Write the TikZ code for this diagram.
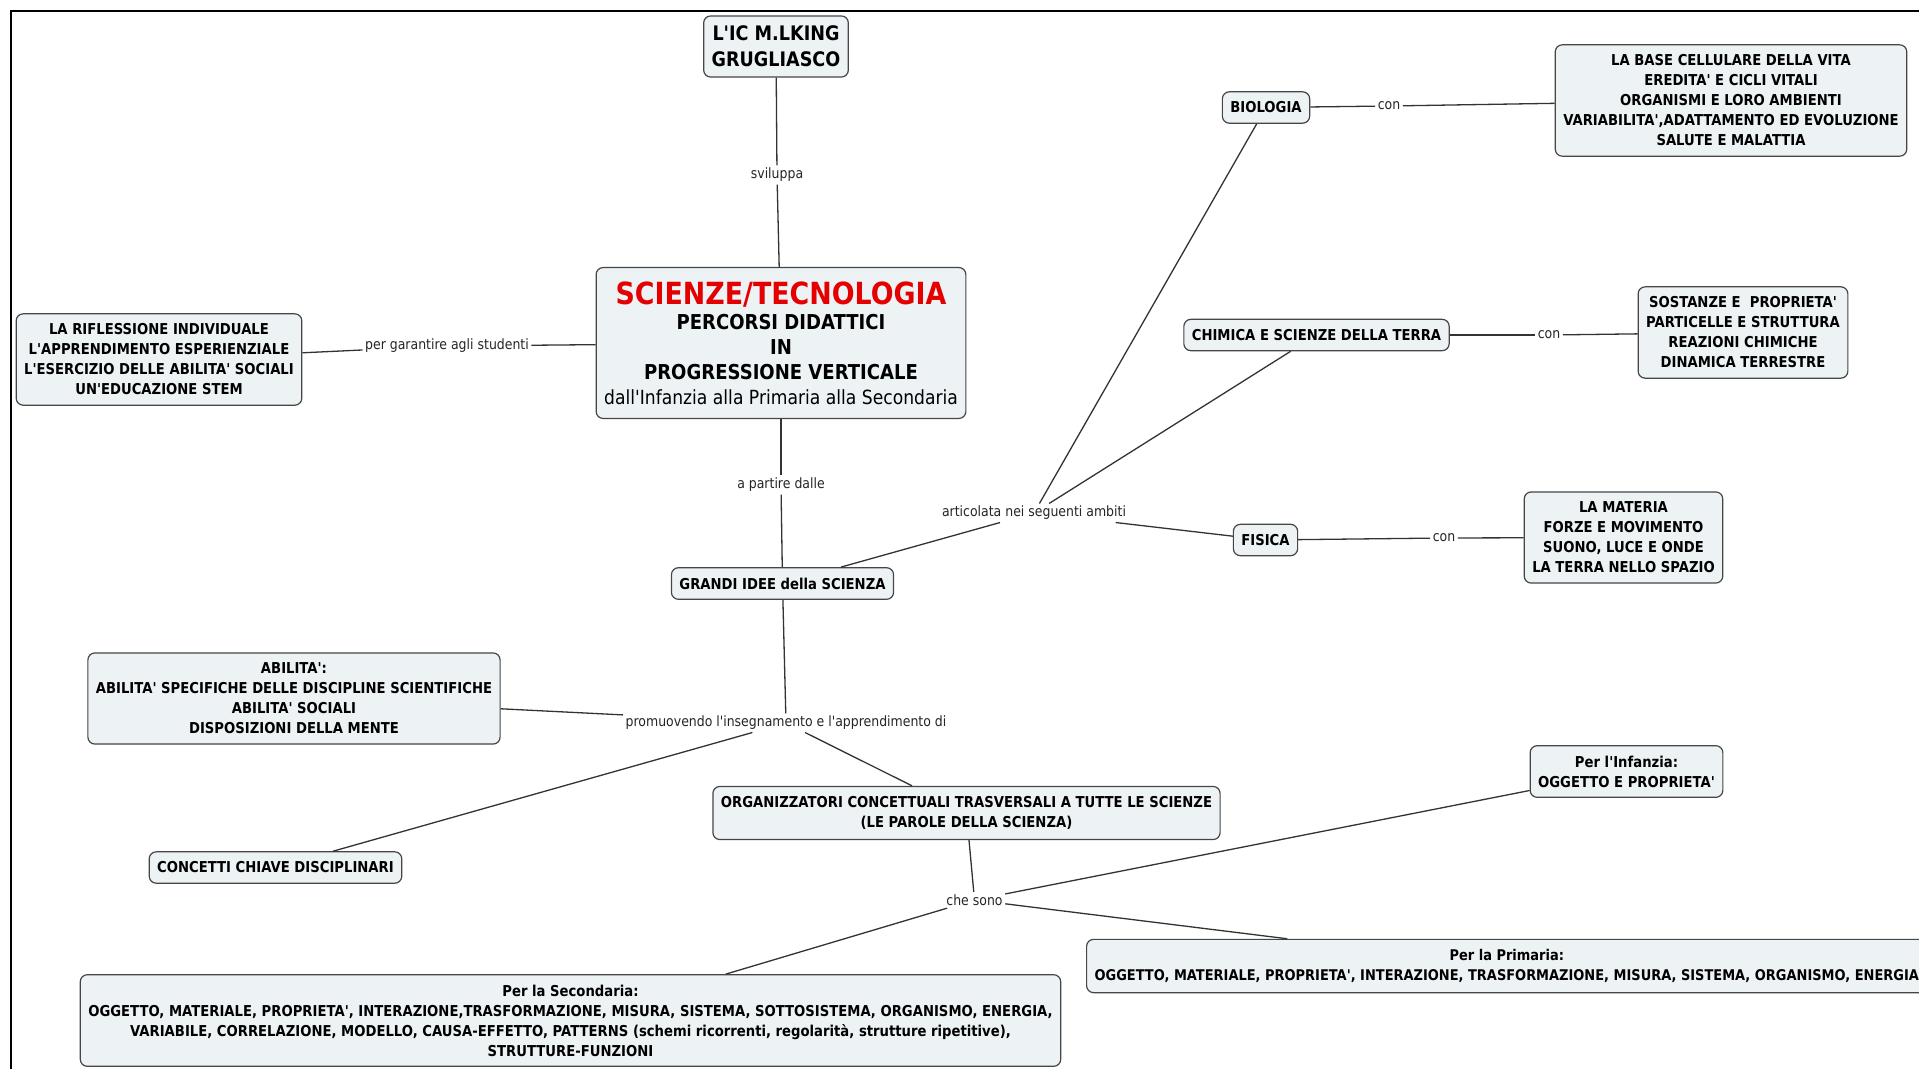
\documentclass[tikz,border=0pt]{standalone}
\usepackage{fontspec}
\usepackage{xcolor}
\usepackage{tikz}
\usetikzlibrary{positioning}

\newfontfamily\mapfont{DejaVu Sans}[FakeStretch=0.88]
\definecolor{conceptfill}{RGB}{237,243,245}
\definecolor{conceptline}{RGB}{70,70,70}
\definecolor{titlered}{RGB}{228,0,0}

\begin{document}
\begin{tikzpicture}[x=1pt, y=-1pt, line width=1.3pt, color=black!80,
	concept/.style={rectangle, rounded corners=7pt, draw=conceptline, fill=conceptfill, line width=1.2pt,
		align=center, text=black, font=\mapfont\bfseries\fontsize{15}{20}\selectfont, inner xsep=8pt, inner ysep=10pt},
	linkword/.style={font=\mapfont\fontsize{14.2}{16}\selectfont, text=black!85, inner sep=2pt},
]
\useasboundingbox (0,0) rectangle (1919,1068);
\fill [white] (0,0) rectangle (1919,1068);
\draw [black, line width=2.5pt] (11,11) rectangle (1960,1100);
%
\node [concept, font=\mapfont\bfseries\fontsize{20}{26}\selectfont] at (776,46.5) (lic) {L'IC M.LKING\\GRUGLIASCO};
\node [concept, inner ysep=14pt, font=\mapfont\bfseries\fontsize{20.5}{25}\selectfont] at (781,343) (main)
	{{\fontsize{30.5}{30.5}\selectfont\color{titlered}SCIENZE/TECNOLOGIA}\\PERCORSI DIDATTICI\\IN\\PROGRESSIONE VERTICALE\\{\mdseries\fontsize{19.5}{25}\selectfont dall'Infanzia alla Primaria alla Secondaria}};
\node [concept] at (159,359.5) (riflessione) {LA RIFLESSIONE INDIVIDUALE\\L'APPRENDIMENTO ESPERIENZIALE\\L'ESERCIZIO DELLE ABILITA' SOCIALI\\UN'EDUCAZIONE STEM};
\node [concept] at (1266,107.5) (biologia) {BIOLOGIA};
\node [concept] at (1731,100.5) (basecell) {LA BASE CELLULARE DELLA VITA\\EREDITA' E CICLI VITALI\\ORGANISMI E LORO AMBIENTI\\VARIABILITA',ADATTAMENTO ED EVOLUZIONE\\SALUTE E MALATTIA};
\node [concept] at (1316.5,335) (chimica) {CHIMICA E SCIENZE DELLA TERRA};
\node [concept] at (1743,332.5) (sostanze) {SOSTANZE E \ PROPRIETA'\\PARTICELLE E STRUTTURA\\REAZIONI CHIMICHE\\DINAMICA TERRESTRE};
\node [concept] at (1265.5,540) (fisica) {FISICA};
\node [concept] at (1623.5,537.5) (materia) {LA MATERIA\\FORZE E MOVIMENTO\\SUONO, LUCE E ONDE\\LA TERRA NELLO SPAZIO};
\node [concept] at (782.5,583.5) (grandi) {GRANDI IDEE della SCIENZA};
\node [concept] at (294,698.5) (abilita) {ABILITA':\\ABILITA' SPECIFICHE DELLE DISCIPLINE SCIENTIFICHE\\ABILITA' SOCIALI\\DISPOSIZIONI DELLA MENTE};
\node [concept] at (275.5,867.5) (concetti) {CONCETTI CHIAVE DISCIPLINARI};
\node [concept] at (966.5,813) (organizz) {ORGANIZZATORI CONCETTUALI TRASVERSALI A TUTTE LE SCIENZE\\(LE PAROLE DELLA SCIENZA)};
\node [concept] at (1626.5,771.5) (infanzia) {Per l'Infanzia:\\OGGETTO E PROPRIETA'};
\node [concept, anchor=west, font=\mapfont\bfseries\fontsize{14.75}{20}\selectfont] at (1086,966) (primaria) {Per la Primaria:\\OGGETTO, MATERIALE, PROPRIETA', INTERAZIONE, TRASFORMAZIONE, MISURA, SISTEMA, ORGANISMO, ENERGIA};
\node [concept] at (570.5,1020.5) (secondaria) {Per la Secondaria:\\OGGETTO, MATERIALE, PROPRIETA', INTERAZIONE,TRASFORMAZIONE, MISURA, SISTEMA, SOTTOSISTEMA, ORGANISMO, ENERGIA,\\VARIABILE, CORRELAZIONE, MODELLO, CAUSA-EFFETTO, PATTERNS (schemi ricorrenti, regolarità, strutture ripetitive),\\STRUTTURE-FUNZIONI};
%
\node [linkword] at (777,175) (sviluppa) {sviluppa};
\node [linkword] at (447,346) (garantire) {per garantire agli studenti};
\node [linkword] at (781,485) (partire) {a partire dalle};
\node [linkword] at (1034,513) (articolata) {articolata nei seguenti ambiti};
\node [linkword] at (1389,106) (conbio) {con};
\node [linkword] at (1549,335) (conchim) {con};
\node [linkword] at (1444,538) (confis) {con};
\node [linkword] at (786,723) (promuovendo) {promuovendo l'insegnamento e l'apprendimento di};
\node [linkword] at (974.5,900) (chesono) {che sono};
%
\draw (lic) -- (sviluppa);
\draw (sviluppa) -- (main);
\draw (main) -- (garantire);
\draw (garantire) -- (riflessione);
\draw (main) -- (partire);
\draw (partire) -- (grandi);
\draw (grandi) -- (articolata);
\draw (articolata) -- (biologia);
\draw (articolata) -- (chimica);
\draw (articolata) -- (fisica);
\draw (biologia) -- (conbio);
\draw (conbio) -- (basecell);
\draw (chimica) -- (conchim);
\draw (conchim) -- (sostanze);
\draw (fisica) -- (confis);
\draw (confis) -- (materia);
\draw (grandi) -- (promuovendo);
\draw (promuovendo) -- (abilita);
\draw (promuovendo) -- (concetti);
\draw (promuovendo) -- (organizz);
\draw (organizz) -- (chesono);
\draw (chesono) -- (infanzia);
\draw (chesono) -- (primaria);
\draw (chesono) -- (secondaria);
\end{tikzpicture}
\end{document}
